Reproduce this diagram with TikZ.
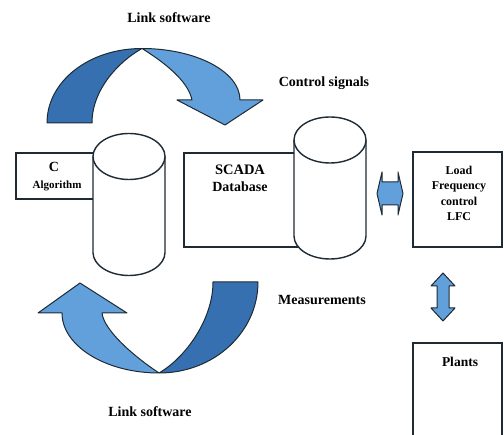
\documentclass[tikz,border=0pt]{standalone}
\usepackage{fontspec}
\setmainfont{Liberation Serif}
\definecolor{edge}{RGB}{30,42,52}
\definecolor{darkband}{RGB}{55,112,176}
\definecolor{lightband}{RGB}{98,160,220}
\tikzset{
  outline/.style={draw=edge, line width=1.4pt},
  box/.style={outline, fill=white, minimum width=#1, inner sep=0pt},
  label/.style={font=\bfseries\fontsize{14}{16}\selectfont, inner sep=1pt},
  band/.style={draw=edge, line width=1pt, line join=round},
  cylinder/.pic={
    % body with the lower half of the base ellipse
    \path[outline, fill=white] (-36,0) -- (-36,96)
      .. controls (-36,108.7) and (-19.9,119) .. (0,119)
      .. controls (19.9,119) and (36,108.7) .. (36,96) -- (36,0);
    % top lid
    \path[outline, fill=white] (0,0) ellipse [x radius=36pt, y radius=23pt];
  }
}
\begin{document}
\begin{tikzpicture}[x=1pt, y=-1pt]
\useasboundingbox (0,0) rectangle (504,435);

% ---- boxes ----
\node[box=104pt, minimum height=46pt] (cbox) at (68,176) {};
\node[box=126pt, minimum height=94pt] (scadabox) at (247,200) {};
\node[box=89pt, minimum height=95pt] (lfcbox) at (457.5,199.5) {};
\node[box=89pt, minimum height=97pt] (plantbox) at (457.5,391.5) {};

% ---- databases ----
\pic at (129,156.5) {cylinder};
\pic at (330,140) {cylinder};

% ---- box texts ----
\node[label] (ctext) at (54,167) {C};
\node[label, font=\bfseries\fontsize{11}{13}\selectfont] (algo) at (57,186) {Algorithm};
\node[label, font=\bfseries\fontsize{14.5}{16}\selectfont] (scada) at (240,170) {SCADA};
\node[label] (dbase) at (240,187) {Database};
\node[label, font=\bfseries\fontsize{12}{15.5}\selectfont, align=center] (lfc) at (459,193.5)
  {Load\\Frequency\\control\\LFC};
\node[label, font=\bfseries\fontsize{13.5}{16}\selectfont] (plants) at (460,362) {Plants};

% ---- free labels ----
\node[label] (linktop) at (169,18) {Link software};
\node[label] (ctrl) at (324,83) {Control signals};
\node[label] (meas) at (322,300) {Measurements};
\node[label] (linkbot) at (150,412) {Link software};

% ---- upper curved arrow (software link to the SCADA side) ----
\coordinate (topx) at (142,48.5);
\path[band, fill=darkband] (47,123)
  .. controls (47,81.6) and (88.6,48.5) .. (topx)
  .. controls (118,62) and (92,90) .. (92,123) -- cycle;
\path[band, fill=lightband] (topx)
  .. controls (195.2,48.5) and (240,71.3) .. (240,100)
  -- (263,100) -- (225,125) -- (177,100) -- (192,100)
  .. controls (188,80) and (162,61) .. (topx) -- cycle;

% ---- lower curved arrow (measurements back to the algorithm) ----
\coordinate (botx) at (159,373);
\path[band, fill=darkband] (258,282)
  .. controls (258,332.3) and (214.1,373) .. (botx)
  .. controls (185,358) and (213,320) .. (213,282) -- cycle;
\path[band, fill=lightband] (botx)
  .. controls (105.9,373) and (62,346.1) .. (62,313)
  -- (38,313) -- (80,283) -- (127,313) -- (102,313)
  .. controls (104,330) and (132,355) .. (botx) -- cycle;

% ---- double arrows ----
\path[band, fill=lightband] (377,193.5) -- (382,172) -- (382,182) -- (398,182)
  -- (398,172) -- (403,193.5) -- (398,215) -- (398,205) -- (382,205)
  -- (382,215) -- cycle;
\path[band, fill=lightband] (443,273) -- (455,286) -- (449,286) -- (449,308)
  -- (455,308) -- (443,321) -- (431,308) -- (437,308) -- (437,286)
  -- (431,286) -- cycle;
\end{tikzpicture}
\end{document}
